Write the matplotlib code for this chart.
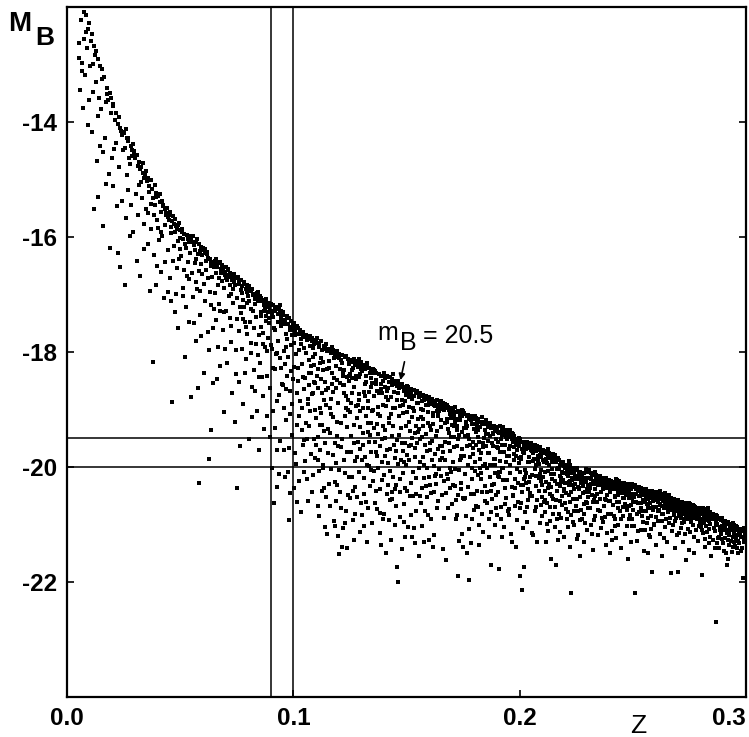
import matplotlib.pyplot as plt
import numpy as np

plt.rcParams['font.family'] = ['Liberation Sans', 'DejaVu Sans']
plt.rcParams['axes.unicode_minus'] = False

# galaxies (z, M_B) in narrow redshift strips
s01 = [(0.0083,-12.14),(0.0051,-12.63),(0.0127,-13.31),(0.0094,-12.38),(0.0066,-12.97),(0.0139,-12.91),(0.0112,-14.18),(0.0075,-12.09),(0.0102,-13.02),(0.0058,-13.44),(0.0131,-14.67),(0.0088,-12.71),(0.0119,-12.68),(0.0143,-13.58),(0.0070,-13.76),(0.0097,-13.61),(0.0124,-12.84),(0.0062,-12.22),(0.0109,-12.47),(0.0135,-15.31),(0.0080,-13.18),(0.0147,-13.02),(0.0091,-14.06),(0.0116,-13.47),(0.0054,-12.88),(0.0104,-12.59),(0.0121,-15.52),(0.0086,-12.43),(0.0137,-13.89),(0.0073,-12.55),(0.0099,-12.27),(0.0128,-12.76),(0.0145,-14.42),(0.0113,-12.99),(0.0068,-13.12)]
s02 = [(0.0163,-13.21),(0.0212,-13.97),(0.0188,-13.49),(0.0241,-14.22),(0.0156,-13.08),(0.0197,-14.63),(0.0229,-13.91),(0.0174,-15.07),(0.0218,-14.36),(0.0151,-13.77),(0.0205,-13.72),(0.0236,-16.53),(0.0183,-13.62),(0.0168,-14.28),(0.0247,-14.49),(0.0193,-13.58),(0.0224,-16.27),(0.0159,-15.81),(0.0201,-15.12),(0.0178,-13.41),(0.0233,-14.11),(0.0215,-13.85),(0.0189,-16.19),(0.0244,-15.38),(0.0171,-13.66),(0.0208,-14.47),(0.0227,-14.03),(0.0161,-14.52),(0.0196,-13.84),(0.0239,-14.16),(0.0185,-14.91),(0.0221,-15.46),(0.0153,-13.26),(0.0249,-14.18),(0.0176,-13.52),(0.0203,-13.69),(0.0231,-14.78)]
s03 = [(0.0263,-14.27),(0.0318,-14.69),(0.0284,-15.44),(0.0342,-14.97),(0.0257,-16.84),(0.0296,-14.56),(0.0331,-15.33),(0.0271,-14.33),(0.0309,-16.42),(0.0252,-14.19),(0.0289,-14.48),(0.0347,-15.52),(0.0277,-15.98),(0.0323,-14.81),(0.0266,-14.92),(0.0301,-14.63),(0.0338,-16.21),(0.0259,-15.67),(0.0293,-15.91),(0.0327,-15.04),(0.0281,-14.41),(0.0314,-14.77),(0.0345,-14.93),(0.0268,-15.19),(0.0305,-15.26),(0.0321,-16.68),(0.0286,-14.59),(0.0336,-14.88),(0.0254,-14.46),(0.0298,-14.51),(0.0312,-15.61),(0.0274,-14.62),(0.0329,-14.79),(0.0341,-15.78),(0.0261,-14.13),(0.0291,-14.39),(0.0316,-15.09),(0.0279,-14.73),(0.0334,-14.71),(0.0307,-14.58),(0.0349,-14.86),(0.0269,-14.28)]
s04 = [(0.0362,-15.11),(0.0417,-15.57),(0.0384,-16.32),(0.0439,-15.62),(0.0353,-15.03),(0.0398,-15.71),(0.0426,-15.46),(0.0371,-15.86),(0.0409,-15.39),(0.0378,-18.17),(0.0447,-16.23),(0.0358,-15.58),(0.0392,-16.83),(0.0431,-15.52),(0.0366,-16.94),(0.0402,-15.29),(0.0421,-15.98),(0.0389,-15.44),(0.0444,-15.66),(0.0356,-14.97),(0.0413,-16.61),(0.0376,-15.17),(0.0435,-16.43),(0.0395,-15.24),(0.0428,-17.06),(0.0381,-15.33),(0.0406,-16.06),(0.0449,-15.71),(0.0364,-15.21),(0.0419,-15.37),(0.0387,-15.09),(0.0441,-15.49),(0.0373,-15.42),(0.0411,-15.26),(0.0359,-16.12),(0.0433,-15.79),(0.0397,-16.51),(0.0424,-15.44),(0.0369,-15.01),(0.0446,-16.96),(0.0383,-15.62),(0.0404,-15.84),(0.0437,-15.58),(0.0391,-15.31),(0.0415,-15.92)]
s05 = [(0.0463,-15.72),(0.0512,-16.03),(0.0487,-16.54),(0.0538,-16.09),(0.0454,-15.56),(0.0499,-15.88),(0.0527,-17.22),(0.0471,-16.16),(0.0516,-15.94),(0.0465,-18.87),(0.0543,-16.27),(0.0459,-15.93),(0.0492,-16.07),(0.0531,-16.68),(0.0478,-15.69),(0.0504,-16.33),(0.0523,-18.08),(0.0483,-15.81),(0.0549,-16.01),(0.0456,-16.71),(0.0508,-15.86),(0.0476,-17.31),(0.0535,-16.44),(0.0495,-15.76),(0.0519,-16.57),(0.0468,-15.64),(0.0547,-18.79),(0.0489,-17.58),(0.0513,-16.88),(0.0452,-15.61),(0.0501,-16.21),(0.0528,-15.97),(0.0481,-16.99),(0.0541,-17.47),(0.0461,-15.83),(0.0506,-15.91),(0.0474,-15.77),(0.0533,-16.04),(0.0494,-16.39),(0.0521,-16.12),(0.0467,-16.41),(0.0545,-15.99),(0.0486,-15.86),(0.0511,-17.03),(0.0458,-17.12),(0.0497,-16.01),(0.0537,-16.73),(0.0479,-15.91),(0.0525,-16.19),(0.0491,-15.79)]
s06 = [(0.0562,-16.14),(0.0613,-16.42),(0.0587,-17.36),(0.0638,-16.51),(0.0554,-16.08),(0.0599,-16.22),(0.0626,-17.97),(0.0571,-16.79),(0.0617,-16.29),(0.0583,-20.28),(0.0644,-16.49),(0.0558,-17.04),(0.0594,-16.47),(0.0632,-16.96),(0.0577,-18.63),(0.0606,-16.81),(0.0628,-19.86),(0.0566,-16.22),(0.0649,-17.26),(0.0591,-16.17),(0.0621,-17.66),(0.0574,-16.03),(0.0637,-19.36),(0.0603,-18.36),(0.0552,-16.63),(0.0611,-16.21),(0.0584,-16.59),(0.0641,-16.69),(0.0568,-17.81),(0.0597,-16.31),(0.0624,-16.37),(0.0579,-16.29),(0.0646,-18.54),(0.0556,-15.99),(0.0608,-17.11),(0.0589,-16.94),(0.0634,-16.44),(0.0564,-16.46),(0.0615,-16.58),(0.0581,-16.12),(0.0643,-17.58),(0.0593,-17.73),(0.0619,-16.26),(0.0572,-16.38),(0.0631,-16.39),(0.0559,-17.49),(0.0601,-16.19),(0.0648,-16.52),(0.0586,-16.24),(0.0623,-16.72),(0.0569,-16.09),(0.0636,-17.19),(0.0596,-16.64),(0.0609,-16.27),(0.0576,-16.91)]
s07 = [(0.0662,-16.49),(0.0713,-16.58),(0.0687,-17.62),(0.0738,-16.78),(0.0654,-16.41),(0.0699,-16.61),(0.0726,-17.54),(0.0671,-17.16),(0.0717,-16.69),(0.0692,-19.04),(0.0744,-16.83),(0.0658,-16.63),(0.0694,-16.89),(0.0732,-16.91),(0.0677,-18.24),(0.0706,-16.74),(0.0728,-18.71),(0.0666,-16.84),(0.0749,-17.43),(0.0691,-16.57),(0.0721,-16.84),(0.0674,-16.44),(0.0742,-19.21),(0.0703,-17.29),(0.0652,-16.98),(0.0711,-16.56),(0.0684,-16.77),(0.0741,-16.72),(0.0668,-17.91),(0.0697,-16.66),(0.0724,-16.99),(0.0679,-16.56),(0.0746,-17.96),(0.0656,-16.38),(0.0708,-18.19),(0.0689,-16.59),(0.0734,-17.14),(0.0664,-16.52),(0.0715,-17.02),(0.0681,-16.62),(0.0743,-16.69),(0.0693,-17.31),(0.0719,-16.63),(0.0672,-16.71),(0.0731,-16.68),(0.0659,-17.44),(0.0701,-16.53),(0.0748,-18.38),(0.0686,-16.48),(0.0723,-17.83),(0.0669,-16.46),(0.0736,-16.64),(0.0696,-17.94),(0.0709,-16.66),(0.0676,-17.28),(0.0661,-18.47),(0.0718,-17.41),(0.0683,-16.51),(0.0729,-16.74),(0.0704,-16.71)]
s08 = [(0.0762,-16.81),(0.0813,-16.94),(0.0787,-17.48),(0.0838,-17.01),(0.0754,-16.72),(0.0799,-16.87),(0.0826,-18.31),(0.0771,-16.98),(0.0817,-18.61),(0.0751,-20.37),(0.0844,-17.12),(0.0758,-17.63),(0.0794,-16.96),(0.0832,-17.16),(0.0777,-18.91),(0.0806,-17.11),(0.0828,-16.99),(0.0766,-17.21),(0.0849,-19.71),(0.0791,-18.12),(0.0821,-17.01),(0.0774,-16.86),(0.0842,-18.06),(0.0803,-16.89),(0.0752,-17.06),(0.0811,-17.84),(0.0784,-16.82),(0.0841,-16.98),(0.0768,-17.32),(0.0797,-17.68),(0.0824,-17.59),(0.0779,-17.09),(0.0846,-17.71),(0.0756,-16.69),(0.0808,-17.48),(0.0789,-16.91),(0.0834,-17.39),(0.0763,-19.63),(0.0815,-17.26),(0.0781,-16.79),(0.0843,-16.96),(0.0793,-17.14),(0.0819,-16.91),(0.0772,-17.94),(0.0831,-18.67),(0.0759,-16.77),(0.0801,-17.02),(0.0848,-17.04),(0.0786,-18.37),(0.0823,-17.29),(0.0769,-16.74),(0.0836,-17.86),(0.0796,-16.83),(0.0802,-19.52),(0.0776,-17.43),(0.0761,-18.52),(0.0818,-19.13),(0.0783,-17.21),(0.0829,-17.07),(0.0804,-16.86),(0.0839,-19.02),(0.0767,-16.93),(0.0812,-18.01),(0.0848,-18.44),(0.0792,-17.57)]
s09 = [(0.0862,-17.11),(0.0913,-17.29),(0.0887,-17.76),(0.0938,-17.26),(0.0854,-17.03),(0.0899,-17.19),(0.0926,-18.02),(0.0871,-17.19),(0.0917,-17.24),(0.0914,-20.63),(0.0944,-17.41),(0.0858,-17.56),(0.0894,-17.14),(0.0932,-17.34),(0.0877,-17.07),(0.0906,-17.94),(0.0927,-20.35),(0.0866,-17.09),(0.0949,-18.56),(0.0891,-17.41),(0.0921,-17.61),(0.0874,-17.92),(0.0942,-18.11),(0.0903,-17.16),(0.0852,-18.19),(0.0911,-17.39),(0.0884,-18.41),(0.0941,-17.33),(0.0868,-18.76),(0.0897,-17.28),(0.0924,-17.21),(0.0879,-17.46),(0.0946,-17.29),(0.0856,-17.31),(0.0908,-19.02),(0.0889,-17.17),(0.0934,-17.81),(0.0864,-17.86),(0.0915,-17.58),(0.0881,-17.38),(0.0943,-19.54),(0.0893,-17.22),(0.0919,-18.29),(0.0872,-19.34),(0.0931,-17.47),(0.0859,-17.06),(0.0901,-17.88),(0.0948,-17.36),(0.0886,-17.14),(0.0923,-18.04),(0.0869,-17.29),(0.0936,-18.74),(0.0896,-18.63),(0.0909,-17.18),(0.0876,-17.24),(0.0861,-18.44),(0.0918,-19.33),(0.0883,-19.11),(0.0929,-18.86),(0.0904,-17.35),(0.0939,-17.19),(0.0867,-17.67),(0.0912,-18.27),(0.0947,-18.27),(0.0892,-17.49),(0.0857,-17.38),(0.0898,-19.47),(0.0928,-19.71),(0.0882,-17.99),(0.0937,-20.12),(0.0905,-20.01),(0.0873,-17.12),(0.0921,-17.27),(0.0945,-17.55),(0.0888,-17.31)]
s10 = [(0.0962,-17.44),(0.1013,-17.56),(0.0987,-20.46),(0.1038,-17.69),(0.0954,-17.36),(0.0999,-17.53),(0.1026,-19.12),(0.0971,-17.39),(0.1017,-20.61),(0.0979,-20.93),(0.1044,-17.74),(0.0958,-17.99),(0.0994,-19.44),(0.1032,-17.86),(0.0977,-20.09),(0.1006,-19.76),(0.1028,-17.62),(0.0966,-19.19),(0.1049,-18.64),(0.0991,-17.88),(0.1021,-18.51),(0.0974,-18.42),(0.1042,-17.66),(0.1003,-17.49),(0.0952,-17.48),(0.1011,-18.04),(0.0984,-18.68),(0.1041,-18.43),(0.0968,-17.69),(0.0997,-18.47),(0.1024,-17.69),(0.0981,-19.67),(0.1046,-17.93),(0.0956,-17.31),(0.1008,-17.64),(0.0989,-17.46),(0.1034,-20.79),(0.0964,-17.52),(0.1015,-17.54),(0.0983,-17.56),(0.1043,-19.61),(0.0993,-17.71),(0.1019,-18.28),(0.0972,-17.38),(0.1031,-17.61),(0.0959,-18.97),(0.1001,-18.26),(0.1048,-17.74),(0.0986,-19.08),(0.1023,-17.97),(0.0969,-17.92),(0.1036,-19.36),(0.0996,-17.57),(0.1009,-17.71),(0.0976,-17.51),(0.0961,-18.21),(0.1018,-19.27),(0.0982,-17.41),(0.1029,-18.86),(0.1004,-17.84),(0.1039,-18.21),(0.0967,-18.64),(0.1012,-19.94),(0.1047,-19.53),(0.0992,-18.91),(0.0957,-19.71),(0.0998,-17.62),(0.1027,-20.24),(0.0978,-18.09),(0.1037,-18.98),(0.1005,-20.37),(0.0973,-17.77),(0.1021,-17.58),(0.1045,-20.08),(0.0988,-18.33),(0.0953,-18.58),(0.1014,-18.72),(0.0963,-20.17),(0.1033,-17.78),(0.0985,-17.62)]
s11 = [(0.1062,-17.79),(0.1113,-17.86),(0.1087,-18.09),(0.1138,-17.94),(0.1054,-17.71),(0.1099,-17.83),(0.1126,-19.27),(0.1071,-19.29),(0.1117,-18.19),(0.1112,-20.85),(0.1144,-18.66),(0.1058,-18.01),(0.1094,-19.01),(0.1132,-18.31),(0.1077,-18.36),(0.1106,-17.76),(0.1139,-21.05),(0.1066,-18.91),(0.1148,-21.17),(0.1091,-17.86),(0.1121,-17.81),(0.1074,-17.89),(0.1142,-19.58),(0.1103,-18.41),(0.1052,-19.89),(0.1111,-18.29),(0.1084,-17.81),(0.1141,-17.89),(0.1068,-18.14),(0.1097,-18.54),(0.1124,-19.06),(0.1079,-19.78),(0.1146,-20.52),(0.1056,-18.01),(0.1108,-19.48),(0.1089,-18.22),(0.1134,-18.84),(0.1064,-17.77),(0.1115,-17.91),(0.1081,-17.76),(0.1143,-17.86),(0.1093,-17.81),(0.1119,-19.27),(0.1072,-17.72),(0.1131,-19.96),(0.1059,-20.21),(0.1101,-17.79),(0.1147,-18.29),(0.1086,-18.71),(0.1123,-18.47),(0.1069,-18.57),(0.1136,-17.89),(0.1096,-18.04),(0.1109,-18.62),(0.1076,-17.89),(0.1061,-19.52),(0.1118,-18.97),(0.1083,-20.44),(0.1129,-20.01),(0.1104,-17.84),(0.1137,-20.37),(0.1067,-18.36),(0.1114,-20.07),(0.1149,-17.99),(0.1092,-19.51),(0.1057,-17.74),(0.1098,-19.14),(0.1128,-17.97),(0.1082,-18.73),(0.1135,-19.37),(0.1107,-20.67),(0.1073,-19.03),(0.1122,-18.11),(0.1145,-18.93),(0.1088,-17.93),(0.1053,-18.45),(0.1116,-19.71),(0.1063,-18.82),(0.1133,-18.18),(0.1085,-20.14),(0.1102,-19.62),(0.1127,-18.71),(0.1078,-18.24),(0.1095,-19.84),(0.1055,-19.24),(0.1125,-20.42),(0.1065,-20.59),(0.1142,-18.53),(0.1090,-18.52),(0.1110,-19.87)]
s12 = [(0.1162,-17.97),(0.1213,-18.06),(0.1187,-20.59),(0.1238,-21.41),(0.1154,-19.34),(0.1199,-21.2),(0.1226,-18.09),(0.1171,-18.36),(0.1217,-21.4),(0.1202,-21.52),(0.1244,-18.21),(0.1158,-17.94),(0.1194,-18.49),(0.1232,-18.76),(0.1177,-18.69),(0.1206,-18.54),(0.1220,-21.06),(0.1166,-18.02),(0.1249,-18.39),(0.1191,-17.99),(0.1221,-18.34),(0.1174,-17.97),(0.1242,-19.01),(0.1203,-18.11),(0.1152,-17.99),(0.1211,-19.66),(0.1184,-18.01),(0.1241,-18.12),(0.1168,-18.81),(0.1197,-18.88),(0.1224,-18.58),(0.1179,-18.11),(0.1246,-18.51),(0.1156,-18.16),(0.1208,-18.06),(0.1189,-18.24),(0.1234,-18.07),(0.1164,-19.41),(0.1215,-18.19),(0.1181,-18.46),(0.1243,-18.83),(0.1193,-19.21),(0.1219,-18.58),(0.1172,-17.92),(0.1231,-20.76),(0.1159,-18.27),(0.1201,-18.03),(0.1248,-18.18),(0.1186,-18.08),(0.1223,-18.31),(0.1169,-18.56),(0.1236,-19.74),(0.1196,-18.03),(0.1209,-18.14),(0.1176,-19.79),(0.1161,-20.68),(0.1218,-18.42),(0.1183,-20.26),(0.1229,-20.11),(0.1204,-18.29),(0.1237,-18.44),(0.1167,-19.07),(0.1212,-19.24),(0.1247,-18.41),(0.1192,-19.46),(0.1157,-20.29),(0.1198,-19.63),(0.1228,-20.97),(0.1182,-21.03),(0.1235,-19.31),(0.1207,-20.44),(0.1173,-19.13),(0.1222,-19.88),(0.1245,-20.18),(0.1188,-19.93),(0.1153,-18.62),(0.1216,-19.52),(0.1163,-18.97),(0.1233,-18.97),(0.1185,-19.59),(0.1202,-20.06),(0.1227,-19.12),(0.1178,-20.94),(0.1195,-20.31),(0.1155,-19.76),(0.1225,-18.71),(0.1165,-20.04),(0.1242,-20.49),(0.1190,-18.63),(0.1210,-20.71)]
s13 = [(0.1262,-20.93),(0.1313,-20.19),(0.1287,-18.21),(0.1338,-18.37),(0.1254,-18.14),(0.1299,-18.22),(0.1326,-21.31),(0.1271,-19.89),(0.1317,-19.82),(0.1295,-21.13),(0.1344,-18.61),(0.1258,-18.31),(0.1294,-18.39),(0.1332,-18.86),(0.1277,-18.94),(0.1306,-18.98),(0.1328,-20.71),(0.1266,-18.12),(0.1349,-20.98),(0.1291,-18.73),(0.1321,-18.52),(0.1274,-18.22),(0.1342,-18.46),(0.1303,-18.33),(0.1252,-19.05),(0.1311,-18.69),(0.1284,-18.26),(0.1341,-18.31),(0.1268,-18.61),(0.1297,-18.21),(0.1324,-18.24),(0.1279,-18.16),(0.1346,-18.54),(0.1256,-19.46),(0.1308,-18.28),(0.1289,-18.44),(0.1334,-18.27),(0.1264,-18.18),(0.1315,-18.29),(0.1281,-19.14),(0.1343,-20.06),(0.1293,-19.31),(0.1319,-19.11),(0.1272,-20.34),(0.1331,-19.23),(0.1259,-18.46),(0.1301,-18.29),(0.1348,-18.36),(0.1286,-18.92),(0.1323,-18.41),(0.1269,-19.27),(0.1336,-19.57),(0.1296,-19.68),(0.1309,-19.61),(0.1276,-18.47),(0.1261,-18.71),(0.1318,-18.77),(0.1283,-19.83),(0.1329,-19.39),(0.1304,-19.87),(0.1337,-20.33),(0.1267,-19.59),(0.1312,-20.47),(0.1347,-19.02),(0.1292,-18.84),(0.1257,-20.17),(0.1298,-20.63),(0.1328,-18.98),(0.1282,-20.52),(0.1335,-19.98),(0.1307,-19.41),(0.1273,-20.81),(0.1322,-20.61),(0.1345,-19.74),(0.1288,-20.09),(0.1253,-19.74),(0.1316,-18.55),(0.1263,-20.42),(0.1333,-18.69),(0.1285,-19.56),(0.1302,-20.84),(0.1327,-19.96),(0.1278,-18.41),(0.1295,-19.02),(0.1255,-18.88),(0.1325,-18.19),(0.1265,-18.27),(0.1342,-19.24),(0.1290,-18.12),(0.1310,-18.23),(0.1339,-19.44),(0.1270,-21.27),(0.1314,-21.02),(0.1251,-20.54),(0.1300,-18.17)]
s14 = [(0.1362,-18.33),(0.1413,-18.67),(0.1387,-18.42),(0.1438,-18.47),(0.1354,-19.01),(0.1399,-18.41),(0.1426,-18.52),(0.1371,-19.26),(0.1417,-20.31),(0.1409,-21.5),(0.1444,-18.56),(0.1358,-18.32),(0.1394,-18.42),(0.1432,-21.27),(0.1377,-18.39),(0.1406,-18.46),(0.1428,-18.44),(0.1366,-18.36),(0.1448,-21.01),(0.1391,-19.91),(0.1421,-19.14),(0.1374,-19.07),(0.1442,-19.29),(0.1403,-19.49),(0.1352,-18.34),(0.1411,-18.79),(0.1384,-19.64),(0.1441,-18.97),(0.1368,-18.67),(0.1397,-18.51),(0.1424,-18.52),(0.1379,-18.39),(0.1446,-18.52),(0.1356,-18.77),(0.1408,-18.43),(0.1389,-21.35),(0.1434,-18.58),(0.1364,-19.74),(0.1415,-18.41),(0.1381,-21.14),(0.1443,-18.69),(0.1393,-18.72),(0.1419,-18.83),(0.1372,-18.96),(0.1431,-18.78),(0.1359,-19.57),(0.1401,-18.36),(0.1447,-20.38),(0.1386,-18.55),(0.1423,-19.23),(0.1369,-19.81),(0.1436,-20.56),(0.1396,-18.93),(0.1407,-19.81),(0.1376,-20.01),(0.1361,-20.62),(0.1418,-18.83),(0.1385,-20.8),(0.1429,-20.07),(0.1404,-19.36),(0.1437,-19.46),(0.1367,-20.41),(0.1412,-19.71),(0.1445,-19.62),(0.1392,-20.23),(0.1357,-19.33),(0.1398,-20.91),(0.1427,-19.69),(0.1382,-19.11),(0.1435,-20.44),(0.1402,-20.14),(0.1373,-19.43),(0.1422,-20.93),(0.1439,-18.39),(0.1388,-18.64),(0.1353,-18.29),(0.1416,-19.93),(0.1363,-18.56),(0.1433,-19.08),(0.1383,-20.39),(0.1400,-20.81),(0.1425,-20.58),(0.1378,-18.71),(0.1395,-19.28),(0.1355,-20.07),(0.1420,-18.62),(0.1365,-18.49),(0.1440,-20.18),(0.1390,-19.52),(0.1410,-18.94),(0.1449,-19.84),(0.1370,-20.73),(0.1414,-20.47),(0.1351,-20.24),(0.1405,-18.61)]
s15 = [(0.1462,-18.51),(0.1513,-19.64),(0.1487,-20.64),(0.1538,-21.33),(0.1454,-18.51),(0.1499,-18.61),(0.1526,-18.81),(0.1471,-20.87),(0.1517,-18.69),(0.1457,-21.74),(0.1544,-20.76),(0.1458,-18.59),(0.1494,-21.21),(0.1532,-18.66),(0.1477,-18.61),(0.1506,-18.72),(0.1528,-18.97),(0.1466,-18.59),(0.1548,-18.68),(0.1491,-18.62),(0.1521,-18.64),(0.1474,-19.87),(0.1542,-20.19),(0.1503,-19.04),(0.1452,-19.73),(0.1511,-19.21),(0.1484,-19.06),(0.1541,-18.71),(0.1468,-19.44),(0.1497,-19.96),(0.1524,-21.22),(0.1479,-21.43),(0.1546,-18.89),(0.1456,-18.54),(0.1508,-18.61),(0.1489,-18.67),(0.1534,-19.02),(0.1463,-22.0),(0.1515,-18.74),(0.1481,-18.56),(0.1543,-19.28),(0.1493,-19.59),(0.1519,-20.27),(0.1472,-18.57),(0.1531,-21.06),(0.1459,-18.84),(0.1501,-18.59),(0.1547,-18.67),(0.1486,-18.92),(0.1523,-19.49),(0.1469,-20.21),(0.1536,-19.83),(0.1496,-18.74),(0.1509,-18.79),(0.1476,-19.32),(0.1461,-19.94),(0.1518,-19.61),(0.1483,-19.73),(0.1529,-20.09),(0.1504,-20.41),(0.1537,-19.41),(0.1467,-19.11),(0.1512,-18.96),(0.1545,-19.59),(0.1492,-20.37),(0.1457,-19.53),(0.1498,-19.28),(0.1527,-20.51),(0.1482,-18.83),(0.1535,-19.02),(0.1502,-19.79),(0.1473,-20.44),(0.1522,-18.69),(0.1539,-19.67),(0.1488,-19.92),(0.1453,-20.31),(0.1516,-19.37),(0.1464,-18.71),(0.1533,-18.76),(0.1485,-20.11),(0.1500,-18.66),(0.1525,-19.13),(0.1478,-19.58),(0.1495,-18.86),(0.1455,-20.68),(0.1520,-20.83),(0.1465,-18.63),(0.1540,-20.47),(0.1490,-20.96),(0.1510,-19.87),(0.1549,-19.39),(0.1470,-18.94),(0.1514,-20.51),(0.1451,-18.98),(0.1505,-21.04)]
s16 = [(0.1562,-18.76),(0.1613,-18.82),(0.1587,-20.33),(0.1638,-18.96),(0.1554,-18.79),(0.1599,-21.27),(0.1626,-18.94),(0.1571,-19.16),(0.1617,-18.89),(0.1556,-21.55),(0.1644,-18.96),(0.1558,-18.71),(0.1594,-18.82),(0.1632,-20.29),(0.1577,-21.3),(0.1606,-18.91),(0.1628,-18.86),(0.1566,-20.62),(0.1648,-18.87),(0.1591,-18.79),(0.1621,-21.19),(0.1574,-18.74),(0.1642,-19.03),(0.1603,-19.58),(0.1552,-18.89),(0.1611,-18.84),(0.1584,-18.78),(0.1641,-19.09),(0.1568,-20.36),(0.1597,-19.24),(0.1624,-19.77),(0.1579,-19.97),(0.1646,-19.64),(0.1557,-18.74),(0.1608,-19.36),(0.1589,-20.01),(0.1634,-18.83),(0.1564,-18.99),(0.1615,-19.12),(0.1581,-18.81),(0.1643,-18.92),(0.1593,-18.93),(0.1619,-19.06),(0.1572,-19.28),(0.1631,-19.46),(0.1559,-19.52),(0.1601,-18.79),(0.1647,-19.88),(0.1586,-18.77),(0.1623,-18.92),(0.1569,-19.47),(0.1636,-19.02),(0.1596,-19.04),(0.1609,-20.91),(0.1576,-18.83),(0.1561,-19.91),(0.1618,-19.26),(0.1583,-19.61),(0.1629,-20.12),(0.1604,-19.71),(0.1637,-20.59),(0.1567,-18.86),(0.1612,-19.54),(0.1645,-20.03),(0.1592,-20.52),(0.1553,-19.34),(0.1598,-20.18),(0.1627,-18.89),(0.1582,-20.77),(0.1635,-19.37),(0.1602,-20.31),(0.1573,-19.82),(0.1622,-20.44),(0.1639,-19.69),(0.1588,-18.93),(0.1555,-20.02),(0.1616,-21.4),(0.1565,-19.13),(0.1633,-20.72),(0.1585,-19.42),(0.1600,-18.88),(0.1625,-20.16),(0.1578,-20.19),(0.1595,-20.84),(0.1560,-20.51),(0.1620,-19.98),(0.1570,-21.02),(0.1640,-19.11),(0.1590,-19.73),(0.1610,-20.45),(0.1649,-18.99),(0.1575,-19.01),(0.1614,-19.87),(0.1551,-19.17),(0.1605,-19.29)]
s17 = [(0.1662,-18.91),(0.1713,-20.03),(0.1687,-19.01),(0.1738,-19.06),(0.1654,-19.31),(0.1699,-18.99),(0.1726,-21.9),(0.1671,-19.56),(0.1717,-20.91),(0.1661,-21.43),(0.1744,-21.16),(0.1658,-18.92),(0.1694,-20.01),(0.1732,-20.06),(0.1677,-20.13),(0.1706,-18.98),(0.1728,-19.52),(0.1666,-18.94),(0.1748,-19.08),(0.1691,-19.07),(0.1721,-19.04),(0.1674,-18.95),(0.1742,-20.39),(0.1703,-19.12),(0.1652,-18.86),(0.1711,-19.66),(0.1684,-18.96),(0.1741,-19.81),(0.1668,-19.88),(0.1697,-18.98),(0.1724,-19.29),(0.1679,-19.16),(0.1746,-19.68),(0.1656,-19.64),(0.1708,-19.09),(0.1689,-19.41),(0.1734,-19.19),(0.1664,-20.24),(0.1715,-19.21),(0.1681,-18.93),(0.1743,-19.01),(0.1693,-19.73),(0.1719,-20.58),(0.1672,-18.91),(0.1731,-21.28),(0.1659,-18.88),(0.1701,-19.02),(0.1747,-19.11),(0.1686,-18.99),(0.1723,-19.36),(0.1669,-19.23),(0.1736,-19.88),(0.1696,-19.47),(0.1709,-19.28),(0.1676,-21.62),(0.1663,-19.74),(0.1718,-19.17),(0.1683,-20.71),(0.1729,-19.02),(0.1704,-19.91),(0.1737,-19.11),(0.1667,-19.01),(0.1712,-20.33),(0.1745,-19.39),(0.1692,-20.37),(0.1657,-20.48),(0.1698,-19.14),(0.1727,-20.49),(0.1682,-19.34),(0.1735,-19.18),(0.1702,-20.64),(0.1673,-18.97),(0.1722,-19.63),(0.1739,-20.27),(0.1688,-19.58),(0.1653,-19.18),(0.1716,-19.17),(0.1665,-20.88),(0.1733,-19.44),(0.1685,-20.21),(0.1700,-19.27),(0.1725,-20.83),(0.1678,-19.21),(0.1695,-20.09),(0.1655,-19.84),(0.1720,-19.04),(0.1670,-19.56),(0.1740,-19.84),(0.1690,-19.06),(0.1710,-19.48),(0.1749,-20.54),(0.1675,-20.46),(0.1714,-18.96),(0.1651,-20.16),(0.1705,-20.31),(0.1750,-21.4)]
s18 = [(0.1762,-19.21),(0.1813,-20.41),(0.1787,-20.47),(0.1838,-19.26),(0.1754,-19.06),(0.1799,-19.34),(0.1826,-19.31),(0.1771,-19.96),(0.1817,-19.17),(0.1768,-21.5),(0.1844,-19.21),(0.1758,-20.12),(0.1794,-19.57),(0.1832,-20.43),(0.1777,-19.16),(0.1806,-19.39),(0.1828,-19.22),(0.1766,-19.12),(0.1848,-19.36),(0.1791,-19.26),(0.1821,-21.36),(0.1774,-21.97),(0.1842,-19.49),(0.1803,-20.07),(0.1752,-19.33),(0.1811,-19.21),(0.1784,-19.11),(0.1841,-19.24),(0.1768,-19.29),(0.1797,-19.16),(0.1824,-19.86),(0.1779,-19.83),(0.1846,-20.59),(0.1756,-19.06),(0.1808,-19.14),(0.1789,-20.21),(0.1834,-19.26),(0.1764,-20.86),(0.1815,-19.36),(0.1781,-19.17),(0.1843,-19.21),(0.1793,-19.67),(0.1819,-19.71),(0.1772,-19.44),(0.1831,-20.11),(0.1759,-20.54),(0.1801,-19.34),(0.1847,-19.94),(0.1786,-21.33),(0.1823,-19.31),(0.1769,-19.09),(0.1836,-19.58),(0.1796,-19.16),(0.1809,-20.68),(0.1776,-21.08),(0.1761,-19.27),(0.1818,-19.48),(0.1783,-19.11),(0.1829,-19.76),(0.1804,-19.12),(0.1837,-21.13),(0.1767,-19.63),(0.1812,-19.19),(0.1845,-20.33),(0.1792,-19.26),(0.1757,-19.46),(0.1798,-20.74),(0.1827,-20.21),(0.1782,-19.61),(0.1835,-19.13),(0.1802,-19.91),(0.1773,-20.34),(0.1822,-21.01),(0.1839,-19.66),(0.1788,-20.01),(0.1753,-19.81),(0.1816,-20.14),(0.1765,-19.33),(0.1833,-20.81),(0.1785,-19.18),(0.1800,-20.47),(0.1825,-20.02),(0.1778,-19.14),(0.1795,-19.78),(0.1755,-20.55),(0.1820,-19.56),(0.1770,-19.1),(0.1840,-19.99),(0.1790,-20.91),(0.1810,-19.29),(0.1849,-19.43),(0.1775,-19.52),(0.1814,-20.69),(0.1751,-19.03),(0.1805,-19.62)]
s19 = [(0.1862,-19.54),(0.1913,-19.29),(0.1887,-19.32),(0.1938,-19.41),(0.1854,-20.01),(0.1899,-20.84),(0.1926,-19.38),(0.1871,-19.46),(0.1917,-19.51),(0.1873,-21.7),(0.1944,-19.36),(0.1858,-19.31),(0.1894,-19.36),(0.1932,-19.61),(0.1877,-20.56),(0.1906,-19.67),(0.1928,-19.31),(0.1866,-21.21),(0.1948,-19.46),(0.1891,-21.01),(0.1921,-19.44),(0.1874,-19.29),(0.1942,-19.52),(0.1903,-19.39),(0.1852,-19.26),(0.1911,-19.41),(0.1884,-19.63),(0.1941,-20.54),(0.1868,-19.24),(0.1897,-20.49),(0.1924,-21.22),(0.1879,-20.31),(0.1946,-19.81),(0.1856,-19.24),(0.1908,-20.17),(0.1889,-19.86),(0.1934,-19.61),(0.1864,-20.91),(0.1915,-19.74),(0.1881,-19.41),(0.1943,-19.36),(0.1893,-19.34),(0.1919,-19.51),(0.1872,-19.33),(0.1931,-21.04),(0.1859,-19.76),(0.1901,-19.31),(0.1947,-19.47),(0.1886,-19.28),(0.1923,-20.02),(0.1869,-20.17),(0.1936,-20.36),(0.1896,-19.52),(0.1909,-20.08),(0.1876,-19.31),(0.1861,-19.43),(0.1918,-20.91),(0.1883,-19.96),(0.1929,-19.74),(0.1904,-20.16),(0.1937,-19.42),(0.1867,-19.26),(0.1912,-20.08),(0.1945,-20.23),(0.1892,-19.97),(0.1857,-20.43),(0.1898,-19.66),(0.1927,-20.23),(0.1882,-19.42),(0.1935,-20.23),(0.1902,-19.57),(0.1873,-20.79),(0.1922,-19.36),(0.1939,-19.48),(0.1888,-19.86),(0.1853,-19.18),(0.1916,-20.69),(0.1865,-19.75),(0.1933,-20.64),(0.1885,-20.29),(0.1900,-19.38),(0.1925,-20.02),(0.1878,-19.58),(0.1895,-20.71),(0.1855,-20.62),(0.1920,-19.61),(0.1870,-19.97),(0.1940,-19.92),(0.1890,-20.11),(0.1910,-19.41),(0.1949,-20.77),(0.1875,-20.42),(0.1914,-19.89),(0.1851,-19.63),(0.1905,-20.44),(0.1907,-21.77)]
s20 = [(0.1962,-19.46),(0.2013,-19.56),(0.1987,-19.71),(0.2038,-19.62),(0.1954,-19.41),(0.1999,-19.49),(0.2026,-20.28),(0.1971,-20.51),(0.2017,-19.66),(0.2003,-21.9),(0.2044,-20.46),(0.1958,-19.96),(0.1994,-20.61),(0.2032,-20.96),(0.1977,-19.56),(0.2006,-19.86),(0.2028,-19.61),(0.1966,-19.51),(0.2048,-19.71),(0.1991,-19.52),(0.2021,-19.61),(0.1974,-19.78),(0.2042,-19.61),(0.2003,-19.51),(0.1952,-20.84),(0.2011,-20.44),(0.1984,-19.62),(0.2041,-19.83),(0.1968,-21.31),(0.1997,-19.59),(0.2024,-19.56),(0.1979,-20.21),(0.2046,-20.17),(0.1956,-19.36),(0.2008,-20.62),(0.1989,-19.71),(0.2034,-19.57),(0.1964,-19.49),(0.2015,-20.31),(0.1981,-20.37),(0.2043,-19.66),(0.1993,-19.53),(0.2019,-19.76),(0.1972,-19.56),(0.2031,-20.69),(0.1959,-19.63),(0.2001,-20.09),(0.2047,-20.51),(0.1986,-20.93),(0.2023,-20.06),(0.1969,-19.43),(0.2036,-19.91),(0.1996,-19.84),(0.2009,-19.57),(0.1976,-19.46),(0.1961,-21.16),(0.2018,-21.74),(0.1983,-19.51),(0.2029,-20.11),(0.2004,-20.32),(0.2037,-20.58),(0.1967,-19.41),(0.2012,-22.14),(0.2045,-19.67),(0.1992,-20.27),(0.1957,-20.11),(0.1998,-19.93),(0.2027,-19.68),(0.1982,-19.81),(0.2035,-20.39),(0.2002,-20.71),(0.1973,-19.66),(0.2022,-20.17),(0.2039,-19.91),(0.1988,-20.04),(0.1953,-20.73),(0.2016,-19.74),(0.1965,-20.34),(0.2033,-19.67),(0.1985,-21.4),(0.2000,-19.52),(0.2025,-20.79),(0.1978,-20.68),(0.1995,-19.64),(0.1955,-19.81),(0.2020,-20.21),(0.1970,-20.49),(0.2040,-20.26),(0.1990,-19.57),(0.2010,-19.69),(0.2049,-19.59),(0.1975,-19.88),(0.2014,-21.06),(0.1951,-19.68),(0.2005,-19.82)]
s21 = [(0.2062,-19.66),(0.2113,-20.78),(0.2087,-19.71),(0.2138,-21.6),(0.2054,-21.15),(0.2099,-19.72),(0.2126,-19.81),(0.2071,-20.33),(0.2117,-21.3),(0.2078,-21.3),(0.2144,-19.86),(0.2058,-19.63),(0.2094,-20.24),(0.2132,-20.94),(0.2077,-19.71),(0.2106,-20.61),(0.2128,-19.76),(0.2066,-20.76),(0.2148,-20.56),(0.2091,-19.66),(0.2121,-19.77),(0.2074,-19.73),(0.2142,-20.21),(0.2103,-19.71),(0.2052,-19.62),(0.2111,-20.09),(0.2084,-20.41),(0.2141,-20.04),(0.2068,-19.61),(0.2097,-20.86),(0.2124,-21.11),(0.2079,-19.86),(0.2146,-19.78),(0.2056,-20.14),(0.2108,-19.74),(0.2089,-19.79),(0.2134,-19.84),(0.2064,-19.86),(0.2115,-19.86),(0.2081,-19.81),(0.2143,-20.51),(0.2093,-19.76),(0.2119,-19.93),(0.2072,-19.96),(0.2131,-20.29),(0.2059,-21.19),(0.2101,-19.76),(0.2147,-19.91),(0.2086,-19.94),(0.2123,-20.36),(0.2069,-19.71),(0.2136,-20.69),(0.2096,-20.66),(0.2109,-19.91),(0.2076,-20.58),(0.2061,-19.89),(0.2118,-20.26),(0.2083,-19.66),(0.2129,-19.96),(0.2104,-20.18),(0.2137,-19.82),(0.2067,-20.04),(0.2112,-20.58),(0.2145,-19.92),(0.2092,-20.05),(0.2057,-19.76),(0.2098,-20.52),(0.2127,-20.07),(0.2082,-19.92),(0.2135,-19.81),(0.2102,-19.88),(0.2073,-20.69),(0.2122,-20.99),(0.2139,-20.13),(0.2088,-20.12),(0.2053,-20.51),(0.2116,-19.73),(0.2065,-19.69),(0.2133,-20.47),(0.2085,-20.19),(0.2100,-20.31),(0.2125,-19.69),(0.2078,-19.64),(0.2095,-19.82),(0.2055,-19.72),(0.2120,-20.63),(0.2070,-20.16),(0.2140,-20.34),(0.2090,-20.97),(0.2110,-20.42),(0.2149,-20.82)]
s22 = [(0.2162,-19.91),(0.2213,-20.06),(0.2187,-20.08),(0.2238,-20.11),(0.2154,-19.81),(0.2199,-19.96),(0.2226,-20.84),(0.2171,-20.01),(0.2217,-20.26),(0.2159,-21.7),(0.2244,-20.16),(0.2158,-19.79),(0.2194,-20.11),(0.2232,-20.23),(0.2177,-19.96),(0.2206,-20.46),(0.2228,-22.2),(0.2166,-20.41),(0.2248,-20.67),(0.2191,-19.92),(0.2221,-20.24),(0.2174,-20.81),(0.2242,-20.39),(0.2203,-20.73),(0.2152,-20.13),(0.2211,-20.91),(0.2184,-20.26),(0.2241,-20.01),(0.2168,-19.86),(0.2197,-20.38),(0.2224,-20.61),(0.2179,-20.59),(0.2246,-20.56),(0.2156,-21.04),(0.2208,-19.97),(0.2189,-20.66),(0.2234,-20.31),(0.2164,-20.29),(0.2215,-20.16),(0.2181,-19.91),(0.2243,-20.16),(0.2193,-19.96),(0.2219,-20.01),(0.2172,-19.88),(0.2231,-20.06),(0.2169,-21.27),(0.2201,-20.01),(0.2247,-20.06),(0.2186,-19.92),(0.2223,-19.97),(0.2176,-20.33),(0.2236,-20.96),(0.2196,-19.99),(0.2209,-20.13),(0.2176,-19.97),(0.2161,-20.58),(0.2218,-20.48),(0.2183,-20.19),(0.2229,-20.19),(0.2204,-20.46),(0.2237,-20.11),(0.2167,-20.04),(0.2212,-20.79),(0.2245,-20.29),(0.2192,-20.11),(0.2157,-20.69),(0.2198,-21.21),(0.2227,-20.44),(0.2182,-20.88),(0.2235,-20.56),(0.2202,-20.27),(0.2173,-20.04),(0.2222,-21.4),(0.2239,-20.76),(0.2188,-20.51),(0.2153,-19.86),(0.2216,-20.31),(0.2165,-20.91),(0.2233,-20.03),(0.2185,-19.97),(0.2200,-20.62),(0.2225,-20.11),(0.2178,-20.15),(0.2195,-20.41),(0.2155,-20.24),(0.2220,-19.89),(0.2170,-19.84),(0.2240,-21.01),(0.2190,-20.23),(0.2210,-20.06),(0.2249,-20.21),(0.2180,-21.13),(0.2214,-21.04)]
s23 = [(0.2262,-20.11),(0.2313,-21.01),(0.2287,-20.26),(0.2338,-20.21),(0.2254,-20.01),(0.2299,-20.38),(0.2326,-20.24),(0.2271,-20.16),(0.2317,-20.11),(0.2267,-21.55),(0.2344,-20.16),(0.2258,-20.76),(0.2294,-20.21),(0.2332,-20.12),(0.2277,-20.21),(0.2306,-20.44),(0.2328,-20.58),(0.2266,-20.52),(0.2348,-20.31),(0.2291,-20.61),(0.2321,-20.14),(0.2274,-20.91),(0.2342,-20.47),(0.2303,-20.09),(0.2252,-21.26),(0.2311,-20.36),(0.2284,-20.11),(0.2341,-20.61),(0.2268,-20.09),(0.2297,-21.1),(0.2324,-20.29),(0.2279,-20.46),(0.2346,-21.19),(0.2256,-20.34),(0.2308,-20.06),(0.2289,-20.44),(0.2334,-20.86),(0.2264,-20.36),(0.2315,-20.21),(0.2281,-20.31),(0.2343,-20.26),(0.2293,-20.19),(0.2319,-20.49),(0.2272,-20.74),(0.2331,-20.09),(0.2259,-21.18),(0.2301,-20.09),(0.2347,-20.18),(0.2286,-20.82),(0.2323,-20.27),(0.2269,-20.21),(0.2336,-20.29),(0.2296,-20.19),(0.2309,-20.71),(0.2276,-20.14),(0.2261,-20.09),(0.2318,-21.17),(0.2283,-20.64),(0.2329,-20.12),(0.2304,-20.71),(0.2337,-20.19),(0.2263,-20.39),(0.2312,-20.19),(0.2345,-20.75),(0.2292,-20.26),(0.2257,-20.21),(0.2298,-20.63),(0.2327,-20.93),(0.2282,-20.11),(0.2335,-20.38),(0.2302,-20.53),(0.2273,-20.28),(0.2322,-20.61),(0.2339,-20.14),(0.2288,-20.97),(0.2253,-20.56),(0.2316,-20.29),(0.2265,-20.93),(0.2333,-20.51),(0.2285,-21.3),(0.2300,-20.31),(0.2325,-21.45),(0.2278,-20.33),(0.2295,-20.04),(0.2255,-20.16)]
s24 = [(0.2362,-20.24),(0.2413,-20.29),(0.2387,-20.31),(0.2438,-20.33),(0.2354,-20.16),(0.2399,-20.59),(0.2426,-20.31),(0.2371,-20.19),(0.2417,-20.26),(0.2382,-21.35),(0.2444,-20.37),(0.2358,-20.24),(0.2394,-20.33),(0.2432,-20.61),(0.2377,-20.56),(0.2406,-21.11),(0.2428,-20.36),(0.2366,-20.39),(0.2448,-21.41),(0.2391,-20.81),(0.2421,-20.38),(0.2374,-20.68),(0.2442,-20.76),(0.2403,-20.24),(0.2352,-20.19),(0.2411,-20.66),(0.2384,-20.28),(0.2441,-20.61),(0.2368,-20.96),(0.2397,-21.5),(0.2424,-21.24),(0.2379,-20.21),(0.2446,-20.27),(0.2356,-20.76),(0.2408,-20.39),(0.2389,-20.26),(0.2434,-20.44),(0.2364,-20.29),(0.2415,-20.29),(0.2381,-20.28),(0.2443,-20.44),(0.2393,-20.35),(0.2419,-20.53),(0.2372,-20.31),(0.2431,-20.23),(0.2359,-20.44),(0.2401,-20.26),(0.2447,-20.91),(0.2386,-20.49),(0.2423,-20.91),(0.2369,-20.21),(0.2436,-21.01),(0.2396,-20.59),(0.2409,-20.39),(0.2376,-20.19),(0.2361,-21.06),(0.2418,-20.34),(0.2383,-20.58),(0.2429,-20.28),(0.2404,-20.36),(0.2437,-20.24),(0.2367,-20.21),(0.2412,-20.29),(0.2445,-20.44),(0.2392,-20.23),(0.2357,-20.31),(0.2398,-20.43),(0.2427,-20.34),(0.2382,-20.19),(0.2435,-20.71),(0.2402,-20.81),(0.2373,-20.29),(0.2422,-20.51),(0.2439,-20.39),(0.2388,-21.14),(0.2353,-20.56),(0.2416,-20.86),(0.2363,-20.88),(0.2433,-20.49),(0.2385,-20.36),(0.2400,-20.44),(0.2425,-20.21),(0.2378,-20.87),(0.2395,-20.22),(0.2355,-20.29),(0.2420,-21.03),(0.2407,-21.27)]
s25 = [(0.2462,-20.54),(0.2513,-20.38),(0.2487,-20.49),(0.2538,-20.46),(0.2454,-20.36),(0.2499,-20.47),(0.2526,-20.79),(0.2471,-20.42),(0.2517,-20.36),(0.2478,-21.6),(0.2544,-20.96),(0.2458,-20.54),(0.2494,-20.39),(0.2532,-20.51),(0.2477,-20.45),(0.2506,-20.52),(0.2528,-20.63),(0.2466,-21.16),(0.2548,-20.44),(0.2491,-20.66),(0.2521,-21.12),(0.2474,-20.74),(0.2542,-20.39),(0.2503,-20.31),(0.2452,-20.41),(0.2511,-22.2),(0.2484,-20.91),(0.2541,-20.49),(0.2468,-20.31),(0.2497,-21.02),(0.2524,-20.41),(0.2479,-20.29),(0.2546,-20.44),(0.2456,-20.86),(0.2508,-20.31),(0.2489,-20.34),(0.2534,-21.09),(0.2464,-20.64),(0.2515,-20.61),(0.2481,-20.54),(0.2543,-20.61),(0.2493,-21.31),(0.2519,-20.36),(0.2472,-20.71),(0.2531,-20.36),(0.2459,-20.28),(0.2501,-20.74),(0.2547,-20.58),(0.2486,-20.37),(0.2523,-20.36),(0.2469,-20.49),(0.2536,-20.63),(0.2496,-20.54),(0.2509,-20.47),(0.2476,-20.31),(0.2461,-20.39),(0.2518,-20.82),(0.2483,-20.39),(0.2529,-20.34),(0.2504,-21.02),(0.2537,-20.71),(0.2467,-20.29),(0.2512,-20.36),(0.2545,-20.76),(0.2492,-20.31),(0.2457,-20.69),(0.2498,-20.29),(0.2527,-20.41),(0.2482,-20.68),(0.2535,-20.37),(0.2502,-20.34),(0.2473,-21.03),(0.2522,-20.63),(0.2539,-20.86),(0.2488,-20.84),(0.2453,-20.46),(0.2516,-20.47),(0.2465,-20.37),(0.2533,-20.38),(0.2485,-20.44),(0.2500,-20.61),(0.2525,-20.51),(0.2463,-20.27),(0.2495,-20.91),(0.2455,-20.34),(0.2520,-21.29),(0.2550,-21.46)]
s26 = [(0.2562,-20.41),(0.2613,-20.94),(0.2587,-20.54),(0.2638,-20.52),(0.2554,-20.46),(0.2599,-20.56),(0.2626,-20.51),(0.2571,-20.49),(0.2617,-20.54),(0.2565,-21.5),(0.2644,-20.61),(0.2558,-20.76),(0.2594,-20.47),(0.2632,-20.49),(0.2577,-20.54),(0.2606,-20.49),(0.2628,-20.81),(0.2566,-20.44),(0.2648,-20.91),(0.2591,-20.69),(0.2621,-20.64),(0.2574,-21.21),(0.2642,-20.51),(0.2603,-20.47),(0.2552,-20.61),(0.2611,-20.61),(0.2584,-20.42),(0.2641,-21.04),(0.2568,-20.56),(0.2597,-20.56),(0.2624,-20.47),(0.2579,-21.07),(0.2646,-20.56),(0.2556,-20.39),(0.2608,-20.44),(0.2589,-20.59),(0.2634,-20.59),(0.2564,-20.64),(0.2615,-20.51),(0.2581,-20.86),(0.2643,-20.61),(0.2593,-20.44),(0.2619,-21.16),(0.2572,-20.47),(0.2631,-21.55),(0.2559,-20.44),(0.2601,-20.69),(0.2647,-20.66),(0.2586,-21.83),(0.2623,-20.56),(0.2569,-20.69),(0.2636,-21.23),(0.2596,-20.57),(0.2609,-20.76),(0.2576,-20.63),(0.2561,-20.53),(0.2618,-20.46),(0.2583,-20.51),(0.2629,-20.67),(0.2604,-21.36),(0.2637,-20.71),(0.2567,-20.89),(0.2612,-20.53),(0.2645,-20.49),(0.2592,-20.99),(0.2557,-20.53),(0.2598,-20.44),(0.2627,-20.94),(0.2582,-20.47),(0.2635,-20.52),(0.2602,-20.87),(0.2573,-20.41),(0.2622,-20.66),(0.2639,-20.69),(0.2588,-20.74),(0.2553,-21.09),(0.2616,-20.74),(0.2563,-20.97),(0.2633,-20.81),(0.2585,-20.46),(0.2600,-20.49),(0.2625,-20.54),(0.2578,-20.71),(0.2595,-21.01),(0.2555,-20.57),(0.2620,-20.42),(0.2570,-21.19),(0.2640,-20.46),(0.2652,-21.31)]
s27 = [(0.2662,-20.56),(0.2713,-20.66),(0.2687,-20.66),(0.2738,-20.71),(0.2654,-20.64),(0.2699,-20.63),(0.2726,-20.96),(0.2671,-20.66),(0.2717,-20.64),(0.2670,-21.85),(0.2744,-20.69),(0.2658,-20.49),(0.2694,-20.76),(0.2732,-20.64),(0.2677,-20.61),(0.2706,-20.79),(0.2728,-20.71),(0.2666,-20.89),(0.2748,-21.44),(0.2691,-20.64),(0.2721,-21.31),(0.2674,-20.74),(0.2742,-20.76),(0.2703,-20.71),(0.2652,-20.54),(0.2711,-21.06),(0.2684,-20.84),(0.2741,-20.91),(0.2668,-20.54),(0.2697,-21.19),(0.2724,-20.79),(0.2679,-21.01),(0.2746,-20.63),(0.2656,-20.79),(0.2708,-20.61),(0.2689,-20.59),(0.2734,-20.66),(0.2664,-20.69),(0.2715,-20.74),(0.2681,-20.56),(0.2743,-20.84),(0.2693,-20.57),(0.2719,-20.81),(0.2672,-21.12),(0.2731,-20.67),(0.2659,-20.97),(0.2701,-20.57),(0.2747,-20.68),(0.2686,-20.62),(0.2723,-20.62),(0.2669,-20.62),(0.2736,-21.62),(0.2696,-20.71),(0.2709,-20.67),(0.2676,-20.68),(0.2661,-20.59),(0.2718,-20.97),(0.2683,-20.69),(0.2729,-21.16),(0.2704,-20.86),(0.2737,-20.63),(0.2667,-20.73),(0.2712,-20.89),(0.2745,-21.07),(0.2692,-20.88),(0.2657,-20.62),(0.2698,-20.61),(0.2727,-20.91),(0.2682,-20.76),(0.2735,-20.69),(0.2702,-21.14),(0.2673,-20.64),(0.2722,-20.69),(0.2739,-20.77),(0.2688,-21.41),(0.2653,-20.71),(0.2716,-20.61),(0.2665,-20.58),(0.2733,-20.83),(0.2685,-20.94),(0.2700,-21.83)]
s28 = [(0.2762,-20.71),(0.2813,-20.89),(0.2787,-20.79),(0.2838,-20.94),(0.2754,-20.69),(0.2799,-21.04),(0.2826,-20.84),(0.2771,-20.83),(0.2817,-20.79),(0.2805,-21.87),(0.2844,-21.55),(0.2758,-20.71),(0.2794,-20.79),(0.2832,-20.89),(0.2777,-20.74),(0.2806,-21.09),(0.2828,-20.77),(0.2766,-21.01),(0.2848,-20.84),(0.2791,-20.88),(0.2821,-20.81),(0.2772,-21.5),(0.2842,-20.79),(0.2803,-20.76),(0.2752,-20.64),(0.2811,-21.14),(0.2784,-20.84),(0.2841,-20.99),(0.2768,-20.79),(0.2797,-20.74),(0.2824,-21.02),(0.2779,-21.09),(0.2846,-20.81),(0.2756,-20.88),(0.2808,-20.82),(0.2789,-21.29),(0.2834,-20.76),(0.2764,-20.66),(0.2815,-20.73),(0.2781,-20.77),(0.2843,-21.21),(0.2793,-20.72),(0.2819,-21.26),(0.2772,-20.68),(0.2831,-20.71),(0.2759,-20.96),(0.2801,-20.71),(0.2847,-20.91),(0.2786,-20.71),(0.2823,-20.93),(0.2769,-21.21),(0.2836,-20.84),(0.2796,-20.98),(0.2809,-20.72),(0.2776,-20.69),(0.2761,-20.81),(0.2818,-20.86),(0.2783,-20.91),(0.2829,-21.13),(0.2804,-20.91),(0.2837,-21.07),(0.2767,-20.75),(0.2812,-20.78),(0.2845,-20.87),(0.2792,-21.02),(0.2757,-20.77),(0.2798,-20.81),(0.2827,-20.74),(0.2782,-20.72),(0.2835,-21.32),(0.2802,-20.94),(0.2773,-20.88),(0.2822,-20.76),(0.2839,-20.81),(0.2788,-20.86),(0.2753,-21.13),(0.2816,-20.97),(0.2763,-20.74),(0.2833,-20.79),(0.2785,-20.79),(0.2820,-21.4)]
s29 = [(0.2862,-20.86),(0.2913,-21.09),(0.2887,-20.89),(0.2938,-21.04),(0.2854,-20.81),(0.2899,-21.33),(0.2926,-20.99),(0.2871,-20.99),(0.2917,-21.14),(0.2868,-22.7),(0.2944,-21.21),(0.2858,-21.06),(0.2894,-20.89),(0.2932,-21.29),(0.2877,-21.24),(0.2906,-20.94),(0.2928,-21.07),(0.2866,-20.94),(0.2948,-21.01),(0.2891,-21.17),(0.2921,-20.96),(0.2874,-20.86),(0.2942,-21.39),(0.2903,-21.01),(0.2852,-21.27),(0.2911,-20.99),(0.2884,-21.04),(0.2941,-21.09),(0.2868,-20.84),(0.2897,-20.94),(0.2924,-21.36),(0.2879,-21.41),(0.2946,-21.06),(0.2856,-20.91),(0.2908,-21.23),(0.2889,-20.92),(0.2934,-21.04),(0.2864,-21.11),(0.2915,-20.98),(0.2881,-20.91),(0.2943,-20.97),(0.2893,-21.03),(0.2919,-21.27),(0.2872,-21.33),(0.2931,-21.01),(0.2859,-20.88),(0.2901,-21.46),(0.2947,-21.16),(0.2886,-21.09),(0.2923,-21.11),(0.2869,-21.01),(0.2936,-20.99),(0.2896,-21.09),(0.2909,-21.06),(0.2876,-20.91),(0.2916,-21.7),(0.2922,-21.6),(0.2953,-21.09),(0.2958,-21.26),(0.2962,-21.04),(0.2967,-21.14),(0.2971,-21.33),(0.2975,-21.08),(0.2979,-21.22),(0.2983,-21.41),(0.2987,-21.12),(0.2991,-21.29),(0.2995,-21.17),(0.2951,-21.37),(0.2956,-21.02),(0.2964,-21.5),(0.2969,-21.07),(0.2973,-21.19),(0.2977,-21.46),(0.2981,-21.11),(0.2985,-21.93),(0.2989,-21.31),(0.2993,-21.06),(0.2997,-21.24),(0.2954,-21.18),(0.2960,-21.41),(0.2966,-21.29),(0.2910,-21.5),(0.2882,-21.21),(0.2927,-21.18),(0.2939,-21.47),(0.2895,-21.26),(0.2863,-21.41),(0.2949,-21.3),(0.2999,-21.11)]

strips = [s01, s02, s03, s04, s05, s06, s07, s08, s09, s10, s11, s12, s13, s14, s15,
          s16, s17, s18, s19, s20, s21, s22, s23, s24, s25, s26, s27, s28, s29]

z_cuts = [0.09, 0.1]          # redshift cuts
m_cuts = [-19.5, -20.0]       # magnitude cuts
x_ticks = [0.0, 0.1, 0.2, 0.3]
y_ticks = [-14, -16, -18, -20, -22]

pts = np.array([p for s in strips for p in s])

fig = plt.figure(figsize=(7.49, 7.37), dpi=100)
ax = fig.add_axes([0.0895, 0.0543, 0.9065, 0.9362])

for zc in z_cuts:
    ax.axvline(zc, color='k', lw=1.1)
for mc in m_cuts:
    ax.axhline(mc, color='k', lw=1.1)

ax.plot(pts[:, 0], pts[:, 1], 's', ms=2.2, mew=0, color='k')

# label for the m_B = 20.5 limit
ax.annotate('', xy=(0.1473, -18.49), xytext=(0.1491, -18.17),
            arrowprops=dict(arrowstyle='-|>', color='k', lw=1.2,
                            mutation_scale=9, shrinkA=0, shrinkB=0))
ax.text(0.1372, -17.79, 'm', fontsize=18, va='baseline')
ax.text(0.1473, -17.96, 'B', fontsize=18, va='baseline')
ax.text(0.1571, -17.84, '= 20.5', fontsize=18, va='baseline')

ax.set_xlim(0, 0.3)
ax.set_ylim(-24, -12)
ax.set_xticks(x_ticks)
ax.set_xticklabels(['%.1f' % t for t in x_ticks])
ax.get_xticklabels()[-1].set_ha('right')
ax.set_yticks(y_ticks)
ax.set_yticklabels(['%d' % t for t in y_ticks])
ax.tick_params(direction='in', length=5, width=1.2, labelsize=17.5, pad=7,
               right=True)
for lab in ax.get_xticklabels() + ax.get_yticklabels():
    lab.set_fontweight('bold')
for sp in ax.spines.values():
    sp.set_linewidth(1.6)

fig.text(0.0107, 0.958, 'M', fontsize=20, fontweight='bold', va='baseline')
fig.text(0.0467, 0.939, 'B', fontsize=19, fontweight='bold', va='baseline')
fig.text(0.852, 0.006, 'Z', fontsize=19, ha='center', va='baseline')

fig.savefig('out.png', dpi=100)
